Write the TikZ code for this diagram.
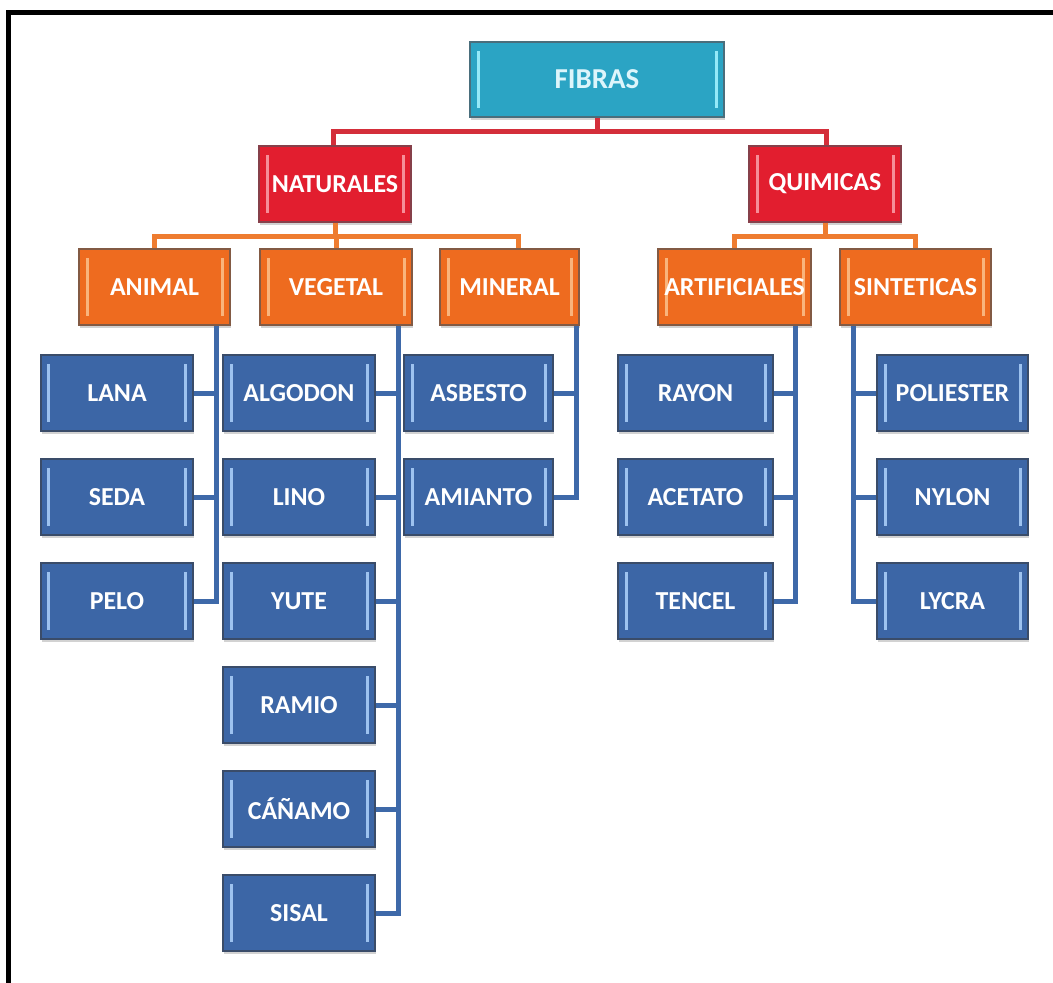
\documentclass[tikz,border=0pt]{standalone}
\usepackage{fontspec}
\setmainfont{Carlito}
\usetikzlibrary{shadows}

\definecolor{tealF}{HTML}{2BA4C4}
\definecolor{tealD}{HTML}{4A6E7C}
\definecolor{tealH}{HTML}{95E9F8}
\definecolor{tealT}{HTML}{DDF5FB}
\definecolor{redF}{HTML}{E21E2F}
\definecolor{redD}{HTML}{86404A}
\definecolor{redH}{HTML}{F68E98}
\definecolor{oraF}{HTML}{EE6B1F}
\definecolor{oraD}{HTML}{825A44}
\definecolor{oraH}{HTML}{F9B47C}
\definecolor{bluF}{HTML}{3C66A6}
\definecolor{bluD}{HTML}{3A4C69}
\definecolor{bluH}{HTML}{9DC2EF}
\definecolor{redL}{HTML}{D42E3A}
\definecolor{oraL}{HTML}{EE7C30}
\definecolor{bluL}{HTML}{3E69A9}

\tikzset{
  tile/.style n args={3}{
    rectangle, inner sep=0pt, minimum width=152bp, minimum height=76bp,
    fill=#1, draw=#2, line width=2.5bp, text=white,
    font=\bfseries\fontsize{26}{28}\selectfont,
    drop shadow={opacity=0.35, shadow xshift=1bp, shadow yshift=-2.5bp},
    path picture={
      \draw[#3, line width=3bp]
        ([xshift=8bp,yshift=-9bp]path picture bounding box.north west) --
        ([xshift=8bp,yshift=9bp]path picture bounding box.south west);
      \draw[#3, line width=3bp]
        ([xshift=-8bp,yshift=-9bp]path picture bounding box.north east) --
        ([xshift=-8bp,yshift=9bp]path picture bounding box.south east);
    }},
  toptile/.style={tile={tealF}{tealD}{tealH}, text=tealT, minimum width=254bp,
    minimum height=75bp, font=\bfseries\fontsize{29}{31}\selectfont},
  redtile/.style={tile={redF}{redD}{redH}},
  oratile/.style={tile={oraF}{oraD}{oraH}},
  blutile/.style={tile={bluF}{bluD}{bluH}},
  link/.style={line width=5bp, line join=miter},
  redlink/.style={link, draw=redL},
  oralink/.style={link, draw=oraL},
  blulink/.style={link, draw=bluL},
}

\begin{document}
\begin{tikzpicture}[x=1bp, y=-1bp]
  \useasboundingbox[fill=white] (0,0) rectangle (1053,983);

  % frame lines along the top and left edges
  \fill[black] (6,10) rectangle (1053,14.5);
  \fill[black] (6,10) rectangle (10.5,983);

  % top and second level
  \node[toptile] (fibras) at (597,79.5) {FIBRAS};
  \node[redtile] (nat) at (335,184) {NATURALES};
  \node[redtile] (qui) at (825,184) {QUIMICAS};

  % third level
  \node[oratile, minimum width=151bp] (animal) at (154.5,287) {ANIMAL};
  \node[oratile] (vegetal) at (336,287) {VEGETAL};
  \node[oratile, minimum width=139bp] (mineral) at (509.5,287) {MINERAL};
  \node[oratile, minimum width=153bp] (artif) at (734.5,287) {ARTIFICIALES};
  \node[oratile, minimum width=151bp] (sint) at (915.5,287) {SINTETICAS};

  % leaves: animal
  \node[blutile] (lana) at (117,393) {LANA};
  \node[blutile] (seda) at (117,497) {SEDA};
  \node[blutile] (pelo) at (117,601) {PELO};
  % leaves: vegetal
  \node[blutile] (algodon) at (299,393) {ALGODON};
  \node[blutile] (lino) at (299,497) {LINO};
  \node[blutile] (yute) at (299,601) {YUTE};
  \node[blutile] (ramio) at (299,705) {RAMIO};
  \node[blutile] (canamo) at (299,809) {CÁÑAMO};
  \node[blutile] (sisal) at (299,913) {SISAL};
  % leaves: mineral
  \node[blutile, minimum width=149bp] (asbesto) at (478.5,393) {ASBESTO};
  \node[blutile, minimum width=149bp] (amianto) at (478.5,497) {AMIANTO};
  % leaves: artificiales
  \node[blutile, minimum width=155bp] (rayon) at (695.5,393) {RAYON};
  \node[blutile, minimum width=155bp] (acetato) at (695.5,497) {ACETATO};
  \node[blutile, minimum width=155bp] (tencel) at (695.5,601) {TENCEL};
  % leaves: sinteticas
  \node[blutile, minimum width=151bp] (poli) at (952.5,393) {POLIESTER};
  \node[blutile, minimum width=151bp] (nylon) at (952.5,497) {NYLON};
  \node[blutile, minimum width=151bp] (lycra) at (952.5,601) {LYCRA};

  % red connectors
  \draw[redlink] (fibras.south) -- ++(0,13) -| ([xshift=-2bp]nat.north);
  \draw[redlink] (fibras.south) -- ++(0,13) -| ([xshift=1bp]qui.north);

  % orange connectors
  \draw[oralink] (nat.south) -- ++(0,13) -| (animal.north);
  \draw[oralink] (nat.south) -- ++(0,13) -| (vegetal.north);
  \draw[oralink] (nat.south) -- ++(0,13) -| ([xshift=8.5bp]mineral.north);
  \draw[oralink] (qui.south) -- ++(0,13) -| (artif.north);
  \draw[oralink] (qui.south) -- ++(0,13) -| (sint.north);

  % blue trunks, one per third-level tile
  \coordinate (tA) at ([xshift=-15bp]animal.south east);
  \coordinate (tV) at ([xshift=-15bp]vegetal.south east);
  \coordinate (tM) at ([xshift=-4bp]mineral.south east);
  \coordinate (tR) at ([xshift=-17bp]artif.south east);
  \coordinate (tS) at ([xshift=15bp]sint.south west);

  \draw[blulink] (tA) |- (pelo.east);
  \draw[blulink] (lana.east) -- (lana.east -| tA);
  \draw[blulink] (seda.east) -- (seda.east -| tA);

  \draw[blulink] (tV) |- (sisal.east);
  \foreach \n in {algodon,lino,yute,ramio,canamo}
    \draw[blulink] (\n.east) -- (\n.east -| tV);

  \draw[blulink] (tM) |- (amianto.east);
  \draw[blulink] (asbesto.east) -- (asbesto.east -| tM);

  \draw[blulink] (tR) |- (tencel.east);
  \draw[blulink] (rayon.east) -- (rayon.east -| tR);
  \draw[blulink] (acetato.east) -- (acetato.east -| tR);

  \draw[blulink] (tS) |- (lycra.west);
  \draw[blulink] (poli.west) -- (poli.west -| tS);
  \draw[blulink] (nylon.west) -- (nylon.west -| tS);
\end{tikzpicture}
\end{document}
